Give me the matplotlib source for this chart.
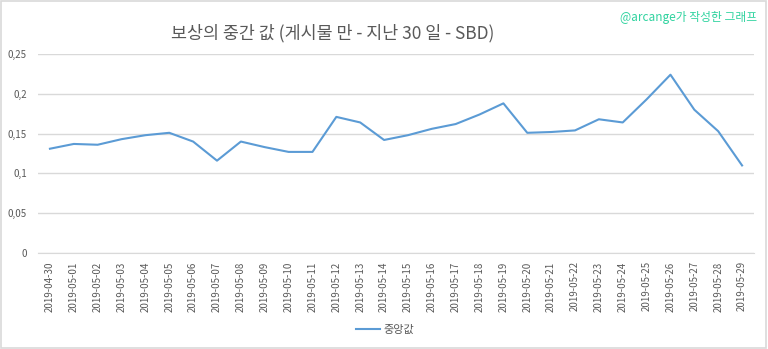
import matplotlib
matplotlib.use("Agg")
import matplotlib.pyplot as plt
from matplotlib.ticker import FuncFormatter

plt.rcParams['font.family'] = ['Noto Sans CJK KR', 'DejaVu Sans']

dates = ['2019-04-30'] + ['2019-05-%02d' % d for d in range(1, 30)]
median_sbd = [0.131, 0.137, 0.136, 0.143, 0.148, 0.151, 0.140, 0.116, 0.140, 0.133,
              0.127, 0.127, 0.171, 0.164, 0.142, 0.148, 0.156, 0.162, 0.174, 0.188,
              0.151, 0.152, 0.154, 0.168, 0.164, 0.193, 0.224, 0.180, 0.153, 0.110]
y_ticks = [0, 0.05, 0.1, 0.15, 0.2, 0.25]

fig = plt.figure(figsize=(7.68, 3.49), dpi=100)
ax = fig.add_axes([38 / 768, 1 - 253 / 349, (754 - 38) / 768, (253 - 54) / 349])

x = list(range(len(dates)))
ax.plot(x, median_sbd, color='#5b9bd5', linewidth=1.5, label='중앙값')

ax.set_xlim(-0.5, len(dates) - 0.5)
ax.set_ylim(0, 0.25)
ax.set_yticks(y_ticks)
ax.yaxis.set_major_formatter(FuncFormatter(lambda v, p: ('%g' % round(v, 2)).replace('.', ',')))
ax.set_xticks(x)
ax.set_xticklabels(dates, rotation=90)
ax.tick_params(axis='both', length=0, labelsize=7, colors='#595959')
ax.tick_params(axis='y', pad=8)
ax.tick_params(axis='x', pad=6)
ax.grid(axis='y', color='#d9d9d9', linewidth=1)
ax.set_axisbelow(True)
for s in ['top', 'right', 'left']:
    ax.spines[s].set_visible(False)
ax.spines['bottom'].set_color('#d9d9d9')

fig.text(333 / 768, 1 - 33 / 349, '보상의 중간 값 (게시물 만 - 지난 30 일 - SBD)',
         ha='center', va='center', fontsize=12.5, color='#595959')
fig.text(757 / 768, 1 - 17 / 349, '@arcange가 작성한 그래프',
         ha='right', va='center', fontsize=8.5, color='#2fd39f')

fig.legend(loc='center', bbox_to_anchor=(385 / 768, 1 - 330 / 349), frameon=False,
           fontsize=8, labelcolor='#595959', handlelength=2.2, handletextpad=0.3)

border = plt.Rectangle((0.001, 0.002), 0.997, 0.995, transform=fig.transFigure,
                       fill=False, edgecolor='#d9d9d9', linewidth=1.2)
fig.patches.append(border)

fig.savefig('out.png', dpi=100)
